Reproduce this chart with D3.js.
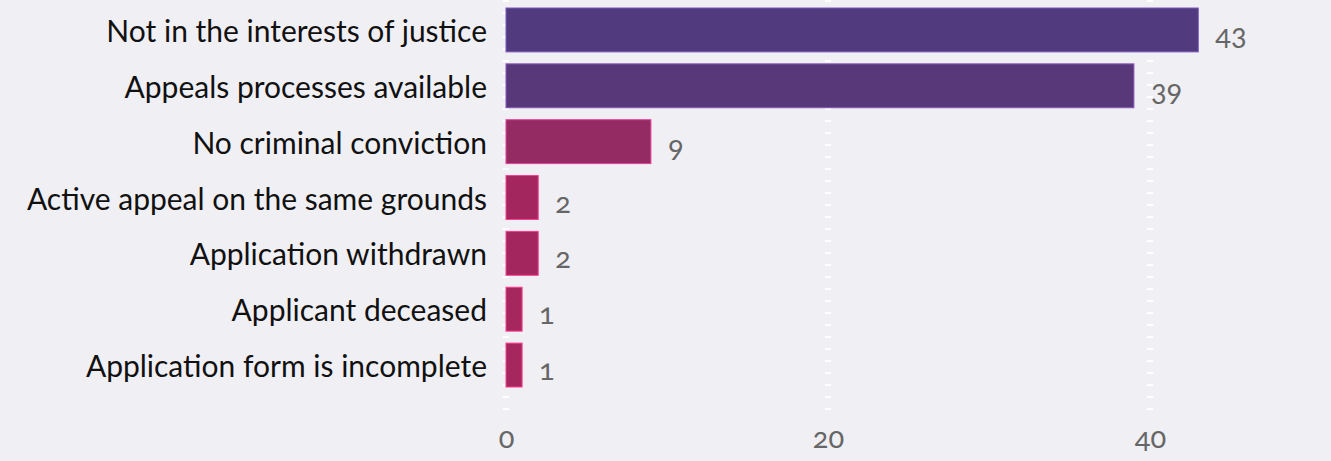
<!DOCTYPE html>
<html>
<head>
<meta charset="utf-8">
<script src="https://cdn.jsdelivr.net/npm/d3@7"></script>
<style>
  body { margin: 0; background: #f0eff4; }
  svg { display: block; }
  .num { font-variant-numeric: oldstyle-nums; font-feature-settings: "onum" 1; }
</style>
</head>
<body>
<div id="chart"></div>
<script>
// data
const categories = [
  "Not in the interests of justice",
  "Appeals processes available",
  "No criminal conviction",
  "Active appeal on the same grounds",
  "Application withdrawn",
  "Applicant deceased",
  "Application form is incomplete"
];
const values = [43, 39, 9, 2, 2, 1, 1];
const xTicks = [0, 20, 40];

const width = 1331, height = 461;
const labelFont = "Lato, 'Open Sans', sans-serif";

const data = categories.map((c, i) => ({ name: c, value: values[i] }));

const svg = d3.select("#chart").append("svg")
  .attr("width", width)
  .attr("height", height);

svg.append("rect")
  .attr("width", width).attr("height", height)
  .attr("fill", "#f0eff4");

// scales
const x = d3.scaleLinear()
  .domain([0, 50])
  .range([506, 1311]);

const y = d3.scaleBand()
  .domain(categories)
  .range([8, 387])
  .paddingInner(0.2143);

// colour follows the value, light magenta -> deep purple
const color = d3.scaleLinear()
  .domain([1, 43])
  .range(["#a5275d", "#513a7d"]);

// dashed white grid lines
svg.append("g")
  .selectAll("line")
  .data(xTicks)
  .join("line")
  .attr("x1", d => x(d)).attr("x2", d => x(d))
  .attr("y1", 0).attr("y2", 411)
  .attr("stroke", "#ffffff")
  .attr("stroke-width", 6)
  .attr("stroke-dasharray", "2,10");

// bars
svg.append("g")
  .selectAll("rect")
  .data(data)
  .join("rect")
  .attr("x", x(0))
  .attr("y", d => y(d.name))
  .attr("width", d => x(d.value) - x(0))
  .attr("height", y.bandwidth())
  .attr("fill", d => color(d.value))
  .attr("stroke", d => d3.color(color(d.value)).brighter(1.2))
  .attr("stroke-width", 1);

// value labels
svg.append("g")
  .selectAll("text")
  .data(data)
  .join("text")
  .attr("class", "num")
  .attr("x", d => x(d.value) + 17)
  .attr("y", d => y(d.name) + y.bandwidth() / 2 + 15)
  .attr("fill", "#666666")
  .attr("font-family", labelFont)
  .attr("font-size", 29)
  .text(d => d.value);

// category axis
const yAxis = svg.append("g")
  .attr("transform", "translate(487,0)")
  .call(d3.axisLeft(y).tickSize(0).tickPadding(0));
yAxis.select(".domain").remove();
yAxis.selectAll("text")
  .attr("fill", "#111111")
  .attr("font-family", labelFont)
  .attr("font-size", 30)
  .attr("dy", "0.4em");

// value axis
const xAxis = svg.append("g")
  .attr("transform", "translate(0,448)")
  .call(d3.axisBottom(x).tickValues(xTicks).tickSize(0).tickPadding(0));
xAxis.select(".domain").remove();
xAxis.selectAll("text")
  .attr("class", "num")
  .attr("fill", "#666666")
  .attr("font-family", labelFont)
  .attr("font-size", 29)
  .attr("dy", null);
</script>
</body>
</html>
